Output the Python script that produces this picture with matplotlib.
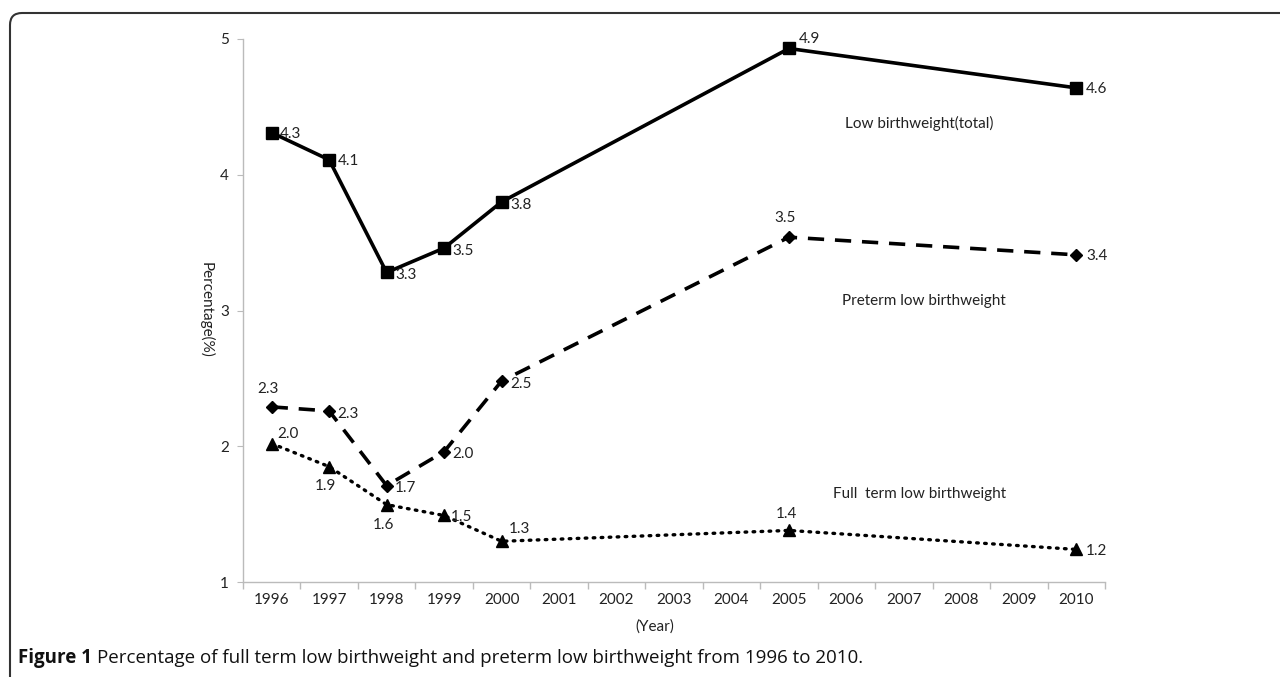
import matplotlib.pyplot as plt
from matplotlib.path import Path
from matplotlib.patches import PathPatch

# data
years = [1996, 1997, 1998, 1999, 2000, 2005, 2010]
total = [4.31, 4.11, 3.28, 3.46, 3.80, 4.93, 4.64]
preterm = [2.29, 2.26, 1.71, 1.96, 2.48, 3.54, 3.41]
fullterm = [2.02, 1.85, 1.57, 1.49, 1.30, 1.38, 1.24]
total_labels = ["4.3", "4.1", "3.3", "3.5", "3.8", "4.9", "4.6"]
preterm_labels = ["2.3", "2.3", "1.7", "2.0", "2.5", "3.5", "3.4"]
fullterm_labels = ["2.0", "1.9", "1.6", "1.5", "1.3", "1.4", "1.2"]
tick_years = list(range(1996, 2011))

plt.rcParams['font.family'] = ['Lato', 'DejaVu Sans']

fig = plt.figure(figsize=(12.8, 6.77), dpi=100)
ax = fig.add_axes([0.1898, 0.1403, 0.6735, 0.8021])

ax.plot(years, total, color='black', lw=2.6, marker='s', ms=8.5, zorder=3)
ax.plot(years, preterm, color='black', lw=2.6, ls=(0, (4.5, 3)), marker='D', ms=6.5, zorder=3)
ax.plot(years, fullterm, color='black', lw=2.4, ls=(0, (0.5, 1.9)), dash_capstyle='round',
        marker='^', ms=9, zorder=3)

# label offsets in points (dx, dy)
total_off = [(6, -1), (6, -1), (6, -2), (6, -2), (6, -2), (7, 7), (7, -1)]
preterm_off = [(-3, 13), (6, -2), (6, -2), (6, -2), (6, -2), (-3, 14), (7, -1)]
fullterm_off = [(4, 7), (-3, -14), (-2, -15), (5, -1), (5, 9), (-2, 12), (7, -1)]

for xs, ys, labs, offs in [(years, total, total_labels, total_off),
                           (years, preterm, preterm_labels, preterm_off),
                           (years, fullterm, fullterm_labels, fullterm_off)]:
    for x, y, t, (dx, dy) in zip(xs, ys, labs, offs):
        ax.annotate(t, (x, y), xytext=(dx, dy), textcoords='offset points',
                    ha='left' if dx > 0 else 'center', va='center',
                    fontsize=11, color='#222222')

ax.set_xlim(1995.5, 2010.5)
ax.set_ylim(1, 5)
ax.set_yticks([1, 2, 3, 4, 5])
ax.set_xticks(tick_years)
ax.set_xticks([y + 0.5 for y in [1995] + tick_years], minor=True)
ax.tick_params(axis='x', which='major', length=0, pad=8, labelsize=11, labelcolor='#222222')
ax.tick_params(axis='x', which='minor', length=5, color='#bbbbbb', width=1)
ax.tick_params(axis='y', length=4, color='#bbbbbb', pad=6, labelsize=11, labelcolor='#222222')
for s in ['top', 'right']:
    ax.spines[s].set_visible(False)
for s in ['left', 'bottom']:
    ax.spines[s].set_color('#bbbbbb')
    ax.spines[s].set_linewidth(1)

ax.text(2005.97, 4.38, 'Low birthweight(total)', fontsize=11, color='#222222', va='center')
ax.text(2005.93, 3.07, 'Preterm low birthweight', fontsize=11, color='#222222', va='center')
ax.text(2005.76, 1.65, 'Full  term low birthweight', fontsize=11, color='#222222', va='center')

fig.text(206 / 1280, 1 - 310 / 677, 'Percentage(%)', rotation=270, fontsize=11,
         color='#222222', ha='center', va='center')
fig.text(655 / 1280, 1 - 627 / 677, '(Year)', fontsize=11, color='#222222',
         ha='center', va='center')

cap = fig.text(18 / 1280, 1 - 658 / 677, 'Figure 1', fontsize=13.5, fontweight='bold',
               family='Open Sans', color='#111111', va='center')
fig.canvas.draw()
bb = cap.get_window_extent()
fig.text((bb.x1 + 5) / 1280, 1 - 658 / 677,
         'Percentage of full term low birthweight and preterm low birthweight from 1996 to 2010.',
         fontsize=13.5, family='Open Sans', color='#111111', va='center')

# open frame with rounded corner (top-left)
W, H = 1280, 677
r = 12
x0, y0 = 10, H - 13
verts = [(x0, 0), (x0, y0 - r), (x0, y0), (x0 + r, y0), (W, y0)]
codes = [Path.MOVETO, Path.LINETO, Path.CURVE3, Path.CURVE3, Path.LINETO]
frame = PathPatch(Path([(vx / W, vy / H) for vx, vy in verts], codes),
                  transform=fig.transFigure, fill=False, edgecolor='#333333', lw=1.5)
fig.patches.append(frame)

fig.savefig('out.png', dpi=100)
